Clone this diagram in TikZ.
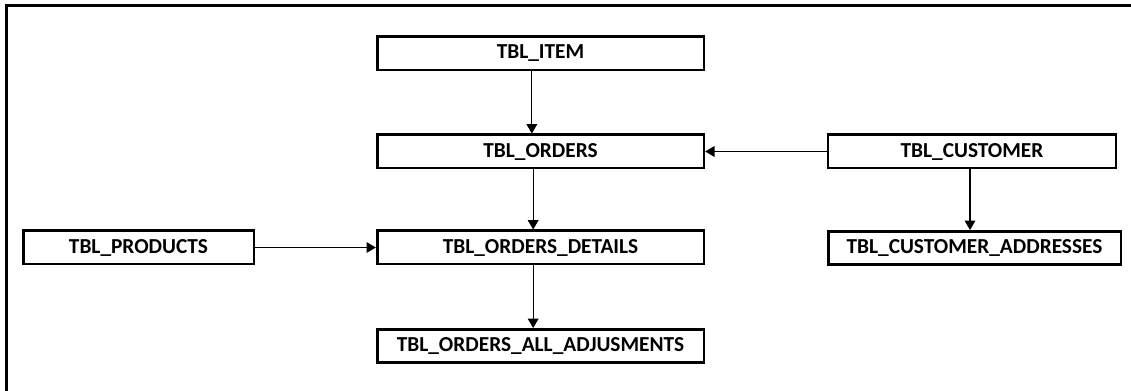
\documentclass[tikz,border=0pt]{standalone}
\usepackage{fontspec}
\setmainfont{Carlito}
\usetikzlibrary{arrows.meta}

\tikzset{
  tbl/.style={draw, line width=2pt, fill=white, inner sep=0pt,
    minimum height=25pt, font=\bfseries\fontsize{16}{19}\selectfont},
  link/.style={line width=0.8pt, -{Triangle[length=7pt,width=8pt]}}
}

\begin{document}
\begin{tikzpicture}[x=0.75pt,y=-0.75pt]
    \useasboundingbox (0,0) rectangle (1131,391);
    % outer frame
    \draw[line width=1.6pt] (6.5,400) -- (6.5,5.5) -- (1140,5.5);

    % tables
    \node[tbl, minimum width=245pt] (item) at (540.5,53.5) {TBL\_ITEM};
    \node[tbl, minimum width=245pt] (orders) at (540.5,151.5) {TBL\_ORDERS};
    \node[tbl, minimum width=245pt] (details) at (540.5,247.5) {TBL\_ORDERS\_DETAILS};
    \node[tbl, minimum width=245pt] (adjust) at (540.5,346) {TBL\_ORDERS\_ALL\_ADJUSMENTS};
    \node[tbl, minimum width=173pt] (products) at (138.5,247.5) {TBL\_PRODUCTS};
    \node[tbl, minimum width=216pt] (customer) at (972,151.5) {TBL\_CUSTOMER};
    \node[tbl, minimum width=219.5pt] (addresses) at (974.5,248) {TBL\_CUSTOMER\_ADDRESSES};

    % links
    \draw[link] ([xshift=-6.5pt]item.south) -- ([xshift=-6.5pt]item.south |- orders.north);
    \draw[link] ([xshift=-5.5pt]orders.south) -- ([xshift=-5.5pt]orders.south |- details.north);
    \draw[link] ([xshift=-5.5pt]details.south) -- ([xshift=-5.5pt]details.south |- adjust.north);
    \draw[link] (products) -- (details);
    \draw[link] (customer) -- (orders);
    \draw[link] ([xshift=-1.5pt]customer.south) -- ([xshift=-1.5pt]customer.south |- addresses.north);
  \end{tikzpicture}
\end{document}
